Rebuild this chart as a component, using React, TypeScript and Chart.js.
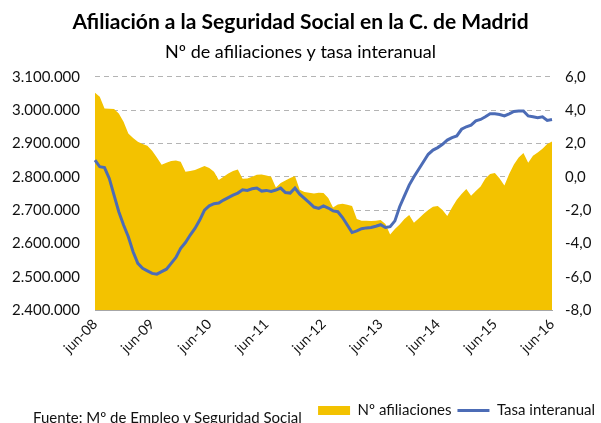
import React, { useEffect, useRef } from "react";
import { Chart, registerables } from "chart.js";

Chart.register(...registerables);

const TITLE = "Afiliación a la Seguridad Social en la C. de Madrid";
const SUBTITLE = "Nº de afiliaciones y tasa interanual";
const SOURCE = "Fuente: Mº de Empleo y Seguridad Social";

const monthNames = ["jun", "jul", "ago", "sep", "oct", "nov", "dic", "ene", "feb", "mar", "abr", "may"];
const tickLabels = ["jun-08", "jun-09", "jun-10", "jun-11", "jun-12", "jun-13", "jun-14", "jun-15", "jun-16"];

// Nº afiliaciones, monthly jun-08 .. jun-16
const afiliaciones = [
  3052000, 3040000, 3005000, 3004000, 3003000, 2990000, 2965000, 2930000, 2916000, 2905000, 2898000, 2893000,
  2878000, 2858000, 2836000, 2842000, 2847000, 2849000, 2845000, 2815000, 2817000, 2820000, 2826000, 2832000,
  2826000, 2815000, 2790000, 2800000, 2810000, 2817000, 2822000, 2794000, 2795000, 2800000, 2806000, 2807000,
  2804000, 2800000, 2768000, 2781000, 2789000, 2796000, 2802000, 2761000, 2754000, 2752000, 2750000, 2752000,
  2751000, 2736000, 2708000, 2717000, 2719000, 2716000, 2712000, 2673000, 2668000, 2668000, 2667000, 2668000,
  2670000, 2658000, 2627000, 2643000, 2657000, 2673000, 2685000, 2662000, 2675000, 2688000, 2700000, 2710000,
  2712000, 2700000, 2682000, 2708000, 2731000, 2748000, 2763000, 2743000, 2757000, 2771000, 2795000, 2808000,
  2811000, 2795000, 2774000, 2808000, 2837000, 2858000, 2871000, 2842000, 2863000, 2873000, 2884000, 2898000,
  2906000,
];

// Tasa interanual (%), monthly jun-08 .. jun-16
const tasa = [
  1.0, 0.6, 0.55, -0.1, -1.1, -2.1, -2.9, -3.6, -4.5, -5.2, -5.5, -5.65,
  -5.8, -5.85, -5.7, -5.55, -5.2, -4.85, -4.3, -3.95, -3.5, -3.1, -2.6, -2.0,
  -1.75, -1.62, -1.58, -1.4, -1.25, -1.1, -0.98, -0.78, -0.82, -0.72, -0.68, -0.86,
  -0.82, -0.88, -0.8, -0.68, -0.95, -0.98, -0.68, -1.05, -1.3, -1.55, -1.82, -1.9,
  -1.75, -1.88, -2.05, -2.1, -2.45, -2.9, -3.35, -3.25, -3.12, -3.07, -3.05, -2.97,
  -2.88, -3.05, -3.0, -2.65, -1.8, -1.15, -0.5, 0.0, 0.45, 0.9, 1.35, 1.6,
  1.75, 1.95, 2.2, 2.35, 2.45, 2.85, 3.0, 3.1, 3.35, 3.44, 3.6, 3.78,
  3.78, 3.74, 3.65, 3.78, 3.92, 3.95, 3.95, 3.65, 3.6, 3.55, 3.6, 3.38,
  3.44,
];

const categories: string[] = afiliaciones.map((_, i) => {
  const m = monthNames[i % 12];
  const yr = 8 + Math.floor((i + 5) / 12);
  return m + "-" + String(yr).padStart(2, "0");
});

const FONT = "Lato, 'Open Sans', sans-serif";
const YELLOW = "#F3C200";
const BLUE = "#4C6CB6";

const legendShift = {
  id: "legendShift",
  afterLayout(chart: any) {
    const l = chart.legend;
    if (l) {
      l.top += 5;
      l.bottom += 5;
      if (l.adjustHitBoxes) l.adjustHitBoxes();
    }
  },
};

export default function App() {
  const ref = useRef<HTMLCanvasElement | null>(null);

  useEffect(() => {
    if (!ref.current) return;
    const chart = new Chart(ref.current, {
      type: "line",
      plugins: [legendShift],
      data: {
        labels: categories,
        datasets: [
          {
            label: "Nº afiliaciones",
            data: afiliaciones,
            yAxisID: "y",
            backgroundColor: YELLOW,
            borderColor: YELLOW,
            borderWidth: 0,
            fill: "start",
            pointRadius: 0,
            pointStyle: "rect",
            tension: 0,
            order: 1,
          },
          {
            label: "Tasa interanual",
            data: tasa,
            yAxisID: "y1",
            borderColor: BLUE,
            backgroundColor: BLUE,
            borderWidth: 3,
            fill: false,
            pointRadius: 0,
            pointStyle: "line",
            tension: 0,
            order: 0,
          },
        ],
      },
      options: {
        responsive: false,
        animation: false,
        devicePixelRatio: 1,
        layout: { padding: { top: 0, left: 0, right: 0, bottom: 0 } },
        plugins: {
          title: {
            display: true,
            text: TITLE,
            color: "#000",
            font: { family: FONT, size: 21, weight: "bold" },
            padding: { top: 10, bottom: 6 },
          },
          subtitle: {
            display: true,
            text: SUBTITLE,
            color: "#000",
            font: { family: FONT, size: 18 },
            padding: { top: 0, bottom: 14 },
          },
          legend: {
            display: true,
            position: "bottom",
            align: "end",
            labels: {
              usePointStyle: true,
              pointStyleWidth: 32,
              boxHeight: 9,
              padding: 6,
              color: "#111",
              font: { family: FONT, size: 15 },
              sort: (a: any, b: any) => a.datasetIndex - b.datasetIndex,
            },
          },
          tooltip: { enabled: false },
        },
        scales: {
          x: {
            type: "category",
            offset: false,
            grid: { display: false, drawTicks: false },
            border: { display: true, color: "#A6A6A6", width: 1 },
            ticks: {
              autoSkip: false,
              minRotation: 45,
              maxRotation: 45,
              padding: 6,
              color: "#111",
              font: { family: FONT, size: 14 },
              callback: (_v: any, i: number) => (i % 12 === 0 ? tickLabels[i / 12] : null),
            },
            afterFit: (s: any) => {
              s.height = 82;
            },
          },
          y: {
            position: "left",
            min: 2400000,
            max: 3100000,
            grid: { color: "#B4B4B4", lineWidth: 1, drawTicks: false },
            border: { display: false, dash: [5, 4] },
            ticks: {
              stepSize: 100000,
              padding: 15,
              color: "#111",
              font: { family: FONT, size: 15 },
              callback: (v: any) => Number(v).toLocaleString("de-DE"),
            },
            afterFit: (s: any) => {
              s.width = 95;
            },
          },
          y1: {
            position: "right",
            min: -8,
            max: 6,
            grid: { display: false, drawTicks: false },
            border: { display: false },
            ticks: {
              stepSize: 2,
              padding: 13,
              color: "#111",
              font: { family: FONT, size: 15 },
              callback: (v: any) => Number(v).toFixed(1).replace(".", ","),
            },
            afterFit: (s: any) => {
              s.width = 49;
            },
          },
        },
      },
    });
    return () => chart.destroy();
  }, []);

  return (
    <div style={{ position: "absolute", left: 0, top: 0, width: 601, height: 423, overflow: "hidden", background: "#fff" }}>
      <canvas ref={ref} width={601} height={423} style={{ display: "block", width: 601, height: 423 }} />
      <div
        style={{
          position: "absolute",
          left: 33,
          top: 408,
          fontFamily: FONT,
          fontSize: 15,
          lineHeight: "18px",
          color: "#111",
          whiteSpace: "nowrap",
        }}
      >
        {SOURCE}
      </div>
    </div>
  );
}
